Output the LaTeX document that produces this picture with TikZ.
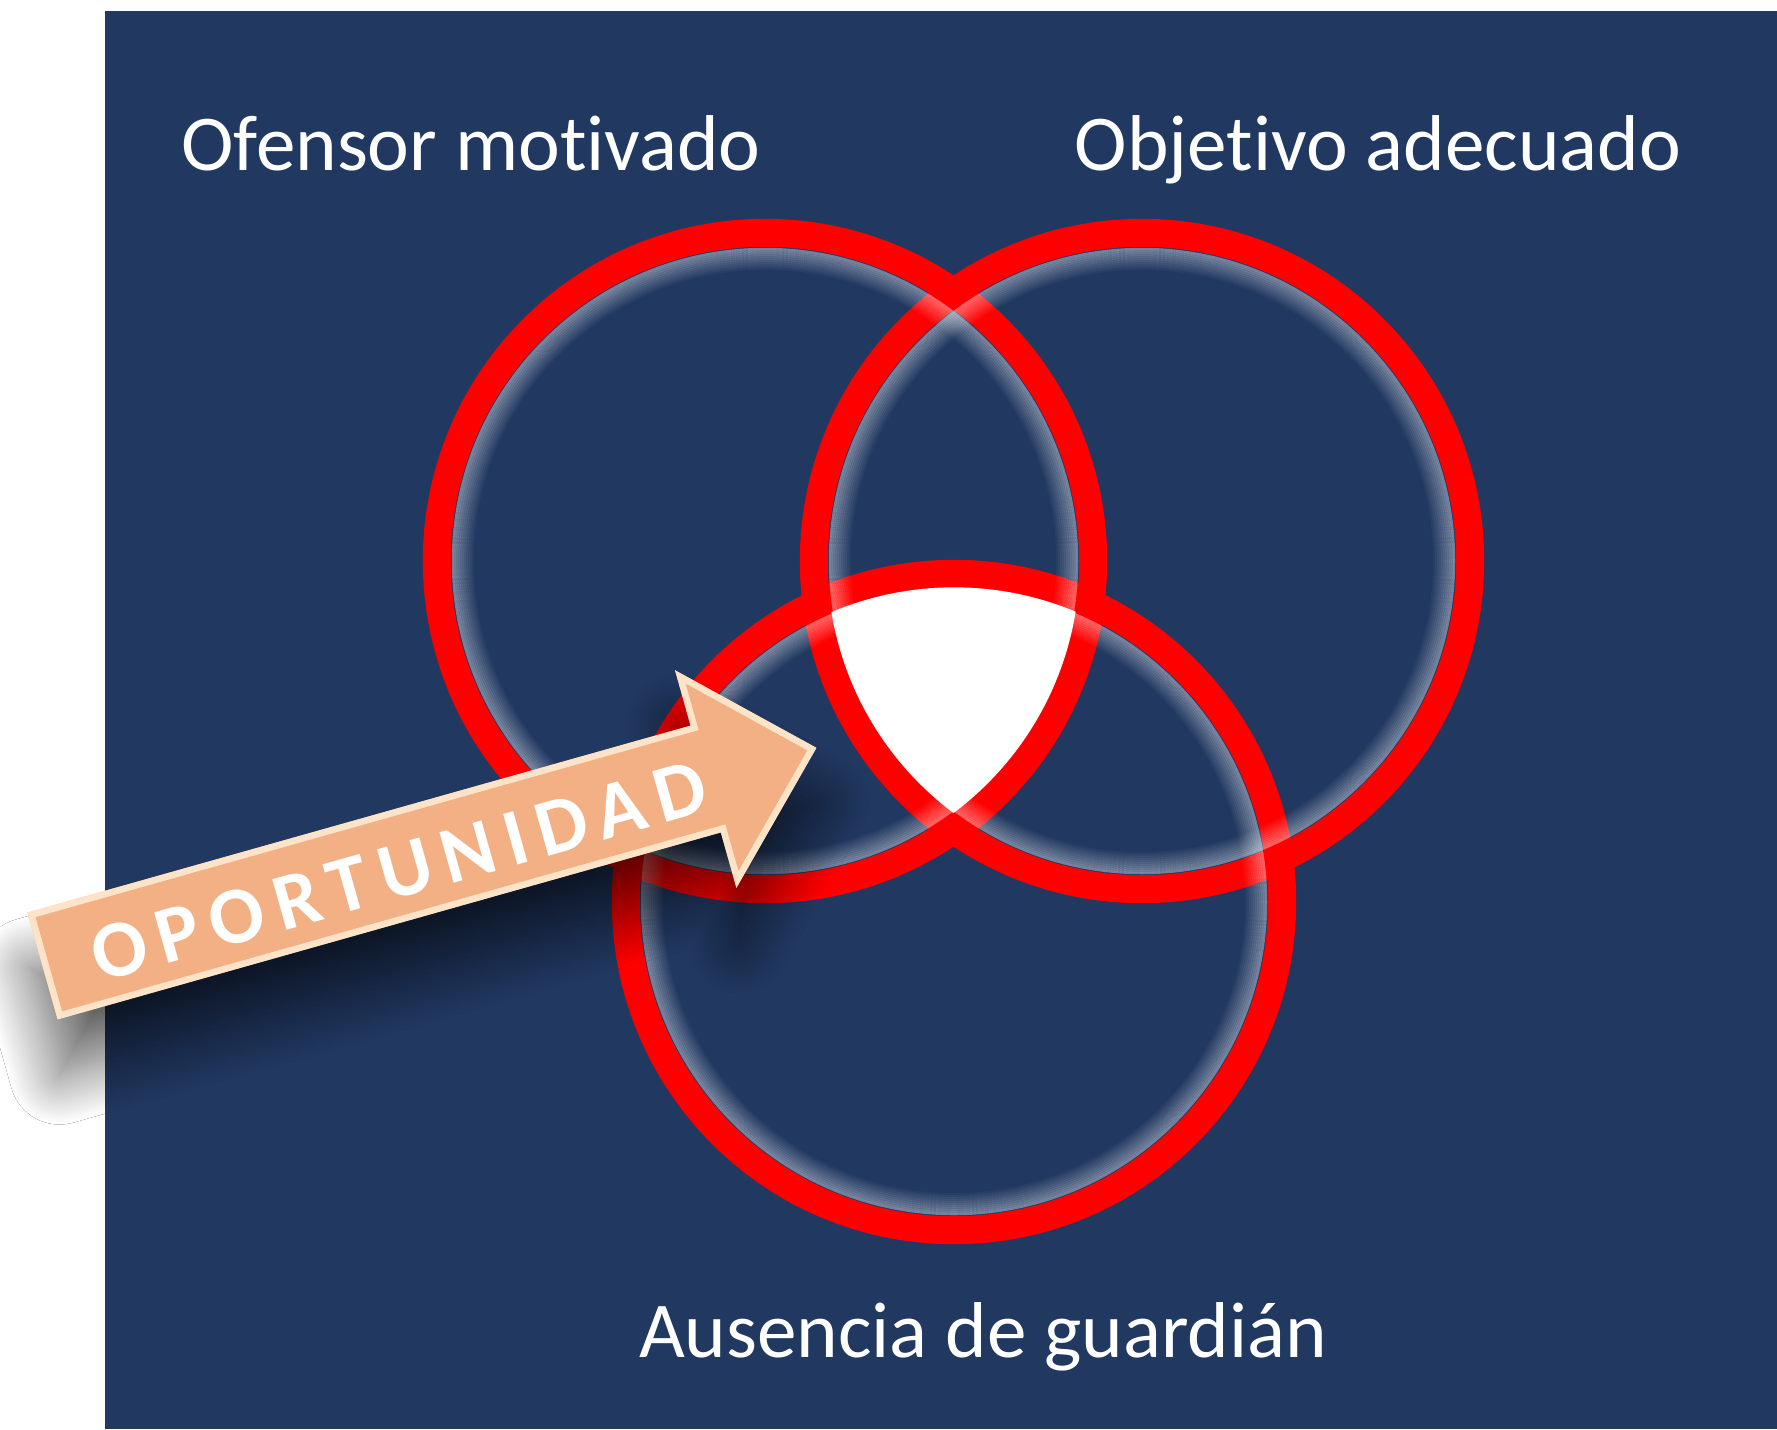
\documentclass[tikz,border=0pt]{standalone}
\usepackage{fontspec}
\setmainfont{Carlito}[Ligatures={NoCommon}]
\newfontfamily\spacedfont{Carlito}[Ligatures={NoCommon},LetterSpace=15]
\usetikzlibrary{shadows.blur}
\definecolor{bgblue}{RGB}{33,56,97}
\definecolor{ringred}{RGB}{255,0,0}
\definecolor{peach}{RGB}{242,176,132}
\definecolor{cream}{RGB}{255,238,214}
\begin{document}
\begin{tikzpicture}[x=0.01cm,y=-0.01cm,
  ring/.style={draw=ringred,line width=0.28cm},
  lbl/.style={text=white,font=\fontsize{22.5}{27}\selectfont,inner sep=0,anchor=base}]
\useasboundingbox (0,0) rectangle (1777,1429);
\fill[white] (0,0) rectangle (1777,1429);
\fill[bgblue] (105,11) rectangle (1777,1429);

% labels
\node[lbl] (l1) at (471,170) {Ofensor motivado};
\node[lbl] (l2) at (1378,170) {Objetivo adecuado};
\node[lbl] (l3) at (983,1357) {Ausencia de guardián};

% circles
\coordinate (c1) at (765,561);
\coordinate (c2) at (1142,561);
\coordinate (c3) at (954,902);
\foreach \c in {c1,c2,c3}{
  \draw[ring] (\c) circle[radius=3.28cm];
}
% inner glow
\foreach \c in {c1,c2,c3}{
  \foreach \i in {0,...,10}{
    \pgfmathsetmacro\rr{3.12-0.02*\i}
    \pgfmathsetmacro\op{0.36*(1-\i/11)}
    \draw[white,opacity=\op,line width=0.021cm] (\c) circle[radius=\rr cm];
  }
}
% triple intersection
\begin{scope}
  \clip (c1) circle[radius=3.145cm];
  \clip (c2) circle[radius=3.145cm];
  \fill[white] (c3) circle[radius=3.145cm];
\end{scope}

% arrow
\coordinate (a1) at (27.4,912.6);
\coordinate (a2) at (690.6,725.6);
\coordinate (a3) at (675.0,670.2);
\coordinate (a4) at (816.4,747.8);
\coordinate (a5) at (736.4,887.8);
\coordinate (a6) at (720.8,832.4);
\coordinate (a7) at (57.6,1019.4);
\path[fill=peach,blur shadow={shadow xshift=0.02cm,shadow yshift=-0.55cm,shadow blur radius=0.5cm,shadow opacity=60,shadow blur steps=30}]
  (a1) -- (a2) -- (a3) -- (a4) -- (a5) -- (a6) -- (a7) -- cycle;
\begin{scope}
  \clip (a1) -- (a2) -- (a3) -- (a4) -- (a5) -- (a6) -- (a7) -- cycle;
  \draw[cream,opacity=0.85,line width=0.13cm,line join=miter]
    (a1) -- (a2) -- (a3) -- (a4) -- (a5) -- (a6) -- (a7) -- cycle;
\end{scope}
\node[rotate=15.75,text=white,inner sep=0,font=\spacedfont\bfseries\fontsize{23}{27}\selectfont] (opp) at (399,871)
  {OPORTUNIDAD};
\end{tikzpicture}
\end{document}
